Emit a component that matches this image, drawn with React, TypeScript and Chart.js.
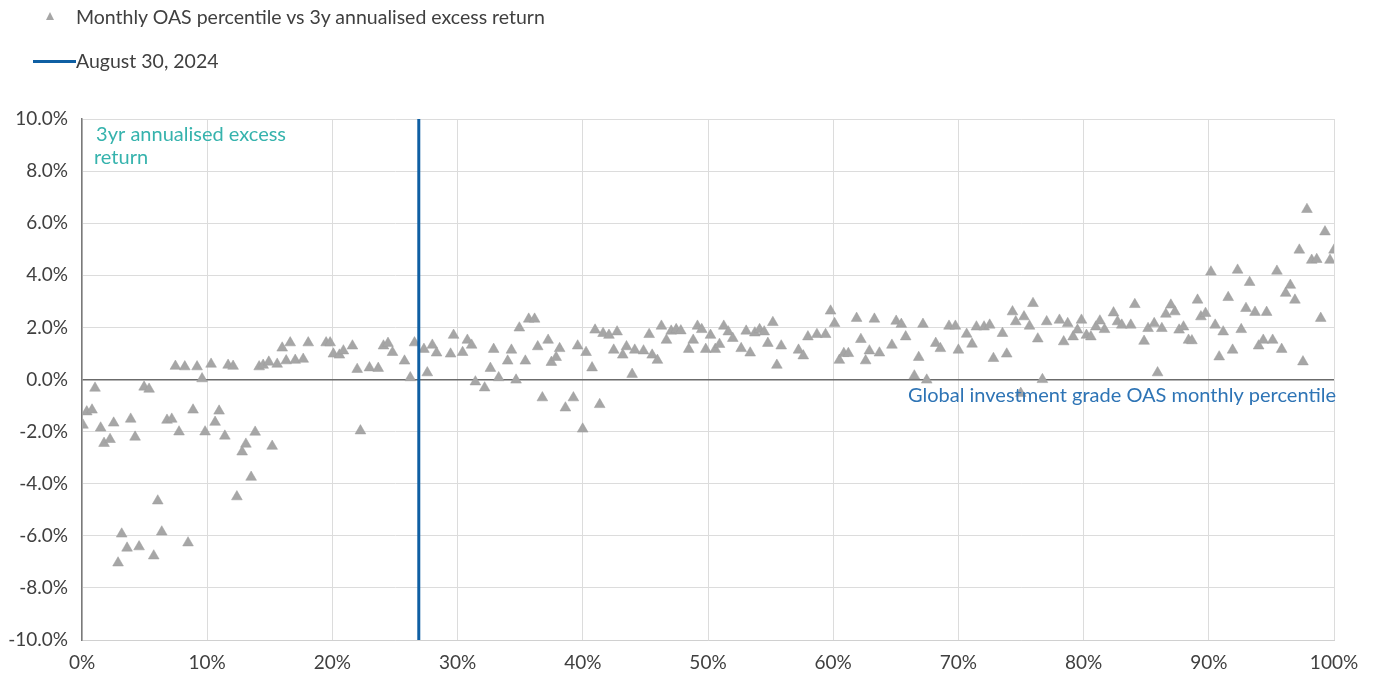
import React, { useEffect, useRef } from "react";
import { Chart, registerables } from "chart.js";

Chart.register(...registerables);

// OAS monthly percentile (%) for each month
const percentiles: number[] = [
  0.08, 0.38, 0.8, 1.04, 1.49, 1.76, 2.24, 2.53, 2.88, 3.17, 3.6, 3.89, 4.24, 4.56, 4.96, 5.36, 5.73, 6.05, 6.37, 6.79,
  7.17, 7.46, 7.75, 8.21, 8.47, 8.87, 9.19, 9.59, 9.83, 10.31, 10.63, 10.95, 11.41, 11.67, 12.07, 12.37, 12.79, 13.09, 13.51, 13.83,
  14.15, 14.47, 14.92, 15.19, 15.59, 15.99, 16.31, 16.63, 17.03, 17.67, 18.07, 19.5, 19.82, 20.08, 20.56, 20.88, 21.6, 21.98, 22.24, 22.96,
  23.66, 24.08, 24.44, 24.8, 25.76, 26.22, 26.56, 27.31, 27.58, 27.98, 28.32, 29.44, 29.68, 30.4, 30.78, 31.12, 31.42, 32.16, 32.62, 32.88,
  33.28, 34.0, 34.3, 34.67, 34.93, 35.41, 35.68, 36.15, 36.4, 36.77, 37.23, 37.49, 37.87, 38.15, 38.61, 39.25, 39.59, 39.99, 40.26, 40.74,
  40.98, 41.35, 41.62, 42.09, 42.74, 42.47, 43.19, 43.49, 43.94, 44.15, 44.85, 45.3, 45.54, 45.96, 46.28, 46.68, 47.06, 47.46, 47.83, 48.46,
  48.82, 49.16, 49.5, 49.82, 50.2, 50.58, 50.92, 51.26, 51.62, 51.98, 52.65, 53.05, 53.37, 53.74, 54.12, 54.49, 54.78, 55.18, 55.5, 55.85,
  57.23, 57.61, 57.98, 58.7, 59.39, 59.79, 60.11, 60.49, 60.85, 61.21, 61.87, 62.21, 62.59, 62.89, 63.29, 63.69, 64.69, 65.03, 65.44, 65.79,
  66.48, 66.83, 67.17, 67.47, 68.19, 68.56, 69.25, 69.76, 70.0, 70.66, 71.09, 71.44, 72.05, 72.5, 72.8, 73.52, 73.86, 74.32, 74.58, 74.98,
  75.24, 75.68, 75.96, 76.34, 76.71, 77.05, 78.07, 78.41, 78.73, 79.16, 79.51, 79.83, 80.23, 80.58, 80.98, 81.3, 81.67, 82.39, 82.71, 83.05,
  83.77, 84.09, 84.83, 85.15, 85.64, 85.91, 86.25, 86.57, 86.97, 87.29, 87.63, 87.98, 88.38, 88.65, 89.1, 89.37, 89.74, 90.17, 90.51, 90.83,
  91.15, 91.55, 91.9, 92.3, 92.59, 92.97, 93.26, 93.69, 93.98, 94.35, 94.62, 95.1, 95.44, 95.82, 96.14, 96.51, 96.88, 97.23, 97.52, 97.84,
  98.22, 98.62, 98.94, 99.28, 99.68, 100.0,
];

// 3y annualised excess return (%) for each month
const excessReturns: number[] = [
  -1.75, -1.24, -1.17, -0.33, -1.86, -2.45, -2.3, -1.67, -7.04, -5.93, -6.47, -1.52, -2.21, -6.42, -0.29, -0.37, -6.77, -4.66, -5.85, -1.56,
  -1.52, 0.51, -2.01, 0.49, -6.27, -1.17, 0.49, 0.03, -2.01, 0.59, -1.64, -1.21, -2.17, 0.55, 0.51, -4.5, -2.78, -2.48, -3.75, -2.02,
  0.49, 0.55, 0.67, -2.56, 0.59, 1.21, 0.72, 1.41, 0.74, 0.78, 1.41, 1.41, 1.41, 0.98, 0.94, 1.1, 1.29, 0.39, -1.97, 0.45,
  0.43, 1.29, 1.39, 1.04, 0.71, 0.07, 1.41, 1.16, 0.26, 1.32, 1.02, 0.98, 1.7, 1.04, 1.51, 1.32, -0.09, -0.32, 0.43, 1.16,
  0.07, 0.71, 1.13, -0.02, 1.98, 0.71, 2.32, 2.32, 1.26, -0.7, 1.51, 0.66, 0.85, 1.19, -1.09, -0.7, 1.29, -1.9, 1.04, 0.45,
  1.9, -0.96, 1.77, 1.7, 1.83, 1.13, 0.94, 1.26, 0.2, 1.13, 1.1, 1.73, 0.94, 0.74, 2.05, 1.51, 1.86, 1.92, 1.87, 1.16,
  1.51, 2.05, 1.92, 1.16, 1.7, 1.16, 1.35, 2.05, 1.83, 1.58, 1.19, 1.86, 1.02, 1.79, 1.92, 1.83, 1.39, 2.19, 0.55, 1.29,
  1.13, 0.91, 1.64, 1.73, 1.73, 2.63, 2.15, 0.74, 1.0, 1.0, 2.35, 1.54, 0.72, 1.1, 2.32, 1.02, 1.32, 2.24, 2.12, 1.64,
  0.14, 0.85, 2.12, -0.02, 1.39, 1.19, 2.05, 2.05, 1.13, 1.74, 1.36, 2.02, 2.02, 2.09, 0.81, 1.77, 0.98, 2.6, 2.22, -0.53,
  2.41, 2.05, 2.92, 1.56, 0.0, 2.22, 2.28, 1.45, 2.15, 1.64, 1.9, 2.28, 1.7, 1.64, 2.02, 2.25, 1.92, 2.56, 2.22, 2.09,
  2.09, 2.88, 1.47, 1.96, 2.15, 0.26, 1.96, 2.51, 2.86, 2.6, 1.9, 2.02, 1.51, 1.49, 3.05, 2.41, 2.54, 4.13, 2.09, 0.87,
  1.83, 3.15, 1.13, 4.2, 1.92, 2.73, 3.73, 2.58, 1.29, 1.51, 2.58, 1.51, 4.16, 1.16, 3.31, 3.62, 3.05, 4.97, 0.68, 6.53,
  4.58, 4.61, 2.35, 5.67, 4.58, 4.97,
];

// Current reading (August 30, 2024)
const currentPercentile: number[] = [26.9, 26.9];
const currentRange: number[] = [-10, 10];

const seriesLabels: string[] = ["Monthly OAS percentile vs 3y annualised excess return", "August 30, 2024"];
const yAxisTitle = "3yr annualised excess return";
const yAxisTitleLines: string[] = [" 3yr annualised excess", "return"];
const xAxisTitle = "Global investment grade OAS monthly percentile";

const FONT = "Lato, 'Open Sans', sans-serif";
const GREY_MARK = "#a6a6a6";
const BLUE = "#0f5fa3";
const TEXT = "#404040";

const annotationPlugin = {
  id: "axisTitles",
  afterDatasetsDraw(chart: any) {
    const { ctx, chartArea } = chart;
    ctx.save();
    ctx.font = `20px ${FONT}`;
    ctx.textBaseline = "middle";
    ctx.fillStyle = "#36b3ad";
    ctx.textAlign = "left";
    ctx.fillText(yAxisTitleLines[0], chartArea.left + 9, chartArea.top + 16);
    ctx.fillText(yAxisTitleLines[1], chartArea.left + 12, chartArea.top + 39);
    ctx.fillStyle = "#2e74b5";
    ctx.textAlign = "right";
    ctx.fillText(xAxisTitle, chartArea.right + 2, chartArea.bottom - 244);
    ctx.restore();
  },
};

export default function App() {
  const canvasRef = useRef<HTMLCanvasElement | null>(null);

  useEffect(() => {
    if (!canvasRef.current) return;
    const points = percentiles.map((p, i) => ({ x: p, y: excessReturns[i] }));
    const line = currentPercentile.map((p, i) => ({ x: p, y: currentRange[i] }));
    const chart = new Chart(canvasRef.current, {
      type: "scatter",
      data: {
        datasets: [
          {
            label: seriesLabels[0],
            data: points,
            pointStyle: "triangle",
            pointRadius: 6.2,
            pointBackgroundColor: GREY_MARK,
            pointBorderColor: "#9c9c9c",
            pointBorderWidth: 0.5,
            showLine: false,
            order: 2,
          },
          {
            label: seriesLabels[1],
            data: line,
            type: "line",
            showLine: true,
            borderColor: BLUE,
            borderWidth: 3,
            pointRadius: 0,
            fill: false,
            order: 1,
          } as any,
        ],
      },
      options: {
        animation: false,
        responsive: true,
        maintainAspectRatio: false,
        layout: { padding: { top: 119, left: 0, right: 40, bottom: 0 } },
        plugins: {
          legend: { display: false },
          tooltip: { enabled: false },
          title: { display: false, text: yAxisTitle },
        },
        scales: {
          x: {
            type: "linear",
            min: 0,
            max: 100,
            ticks: {
              stepSize: 10,
              color: TEXT,
              font: { family: FONT, size: 19 },
              padding: 11,
              callback: (v: any) => `${v}%`,
              maxRotation: 0,
            },
            grid: { color: "#dcdcdc", lineWidth: 1, drawTicks: false },
            border: { display: true, color: "#d0d0d0", width: 1 },
            afterFit: (axis: any) => {
              axis.height = 37;
            },
          },
          y: {
            type: "linear",
            min: -10,
            max: 10,
            ticks: {
              stepSize: 2,
              color: TEXT,
              font: { family: FONT, size: 19 },
              padding: 14,
              callback: (v: any) => `${Number(v).toFixed(1)}%`,
            },
            grid: {
              color: (c: any) => (c.tick && c.tick.value === 0 ? "#6b6b6b" : "#dcdcdc"),
              lineWidth: (c: any) => (c.tick && c.tick.value === 0 ? 1.5 : 1),
              drawTicks: false,
            },
            border: { display: true, color: "#7a7a7a", width: 1.5 },
            afterFit: (axis: any) => {
              axis.width = 82;
            },
          },
        },
      },
      plugins: [annotationPlugin],
    });
    return () => chart.destroy();
  }, []);

  return (
    <div style={{ position: "absolute", left: 0, top: 0, width: 1374, height: 677, background: "#fff", fontFamily: FONT }}>
      <canvas ref={canvasRef} style={{ position: "absolute", left: 0, top: 0, width: 1374, height: 677 }} />
      <div style={{ position: "absolute", left: 0, top: 0, width: 700, height: 80, color: TEXT, fontSize: 19.5 }}>
        <div style={{ position: "absolute", left: 45.5, top: 12, width: 0, height: 0, borderLeft: "4.5px solid transparent", borderRight: "4.5px solid transparent", borderBottom: `8px solid ${GREY_MARK}` }} />
        <div style={{ position: "absolute", left: 76, top: 5, whiteSpace: "nowrap", lineHeight: "24px" }}>{seriesLabels[0]}</div>
        <div style={{ position: "absolute", left: 33, top: 59.5, width: 43, height: 3, background: BLUE }} />
        <div style={{ position: "absolute", left: 76, top: 49, whiteSpace: "nowrap", lineHeight: "24px" }}>{seriesLabels[1]}</div>
      </div>
    </div>
  );
}
